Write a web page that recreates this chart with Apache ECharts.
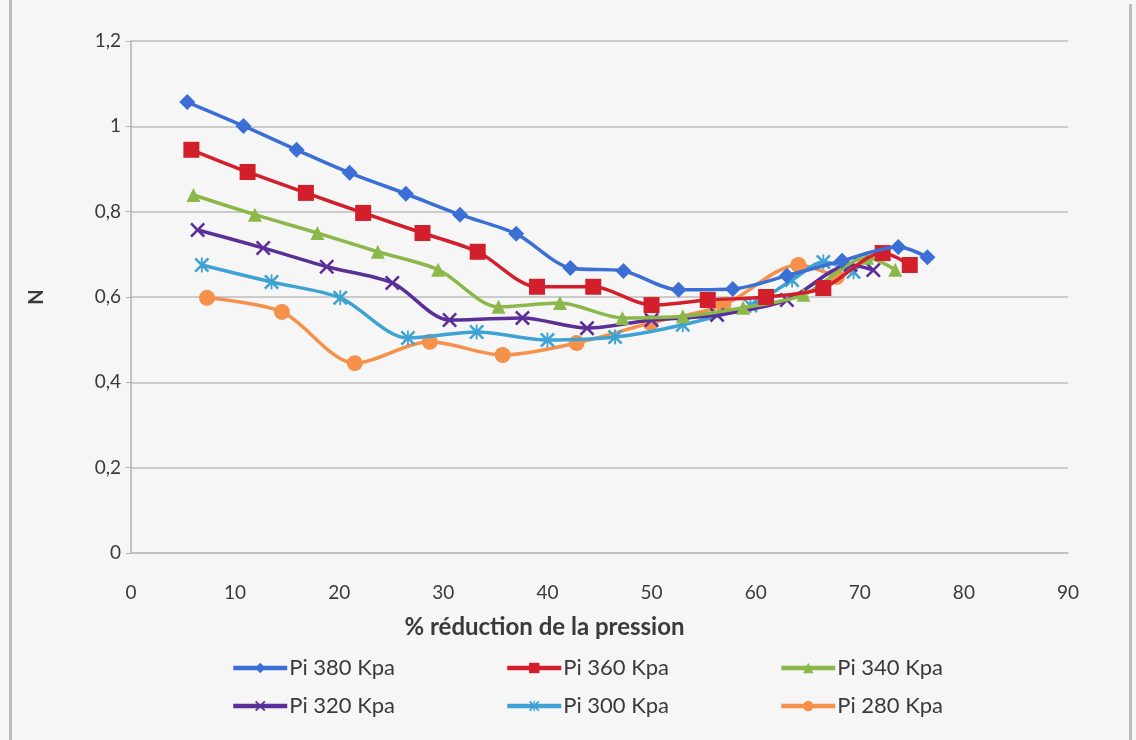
<!DOCTYPE html>
<html>
<head>
<meta charset="utf-8">
<script src="https://cdn.jsdelivr.net/npm/echarts@6/dist/echarts.min.js"></script>
<style>
html,body{margin:0;padding:0;background:#f6f6f6;}
#chart{width:1136px;height:740px;}
</style>
</head>
<body>
<div id="chart"></div>
<script>
// ---- data ----
const seriesNames = ['Pi 380 Kpa', 'Pi 360 Kpa', 'Pi 340 Kpa', 'Pi 320 Kpa', 'Pi 300 Kpa', 'Pi 280 Kpa'];

const x380 = [5.4, 10.8, 15.9, 21.0, 26.4, 31.6, 37.0, 42.2, 47.3, 52.6, 57.8, 63.0, 68.3, 73.7, 76.5];
const y380 = [1.057, 1.001, 0.945, 0.891, 0.842, 0.793, 0.748, 0.668, 0.661, 0.617, 0.619, 0.650, 0.685, 0.717, 0.693];

const x360 = [5.8, 11.2, 16.8, 22.3, 28.0, 33.3, 39.0, 44.4, 50.0, 55.4, 61.0, 66.5, 72.2, 74.8];
const y360 = [0.945, 0.893, 0.844, 0.797, 0.750, 0.706, 0.624, 0.624, 0.581, 0.593, 0.600, 0.621, 0.703, 0.675];

const x340 = [6.0, 11.9, 17.9, 23.7, 29.5, 35.3, 41.2, 47.2, 53.0, 58.8, 64.6, 70.7, 73.4];
const y340 = [0.839, 0.793, 0.750, 0.706, 0.664, 0.577, 0.586, 0.551, 0.555, 0.575, 0.605, 0.692, 0.664];

const x320 = [6.4, 12.7, 18.8, 25.1, 30.6, 37.6, 43.8, 50.0, 56.3, 63.0, 69.1, 71.3];
const y320 = [0.757, 0.715, 0.671, 0.633, 0.546, 0.551, 0.527, 0.546, 0.558, 0.593, 0.675, 0.663];

const x300 = [6.8, 13.5, 20.1, 26.6, 33.2, 40.0, 46.5, 53.0, 59.5, 63.5, 66.5, 69.4];
const y300 = [0.675, 0.635, 0.598, 0.504, 0.518, 0.499, 0.506, 0.535, 0.580, 0.640, 0.682, 0.659];

const x280 = [7.3, 14.5, 21.5, 28.7, 35.7, 42.8, 49.9, 56.9, 64.1, 67.8];
const y280 = [0.598, 0.565, 0.445, 0.495, 0.464, 0.492, 0.539, 0.581, 0.675, 0.647];

const xTicks = [0, 10, 20, 30, 40, 50, 60, 70, 80, 90];
const yTicks = ['0', '0,2', '0,4', '0,6', '0,8', '1', '1,2'];

// ---- presentation ----
const colors = ['#3b6fd6', '#d21f2b', '#8cb84b', '#5b2f98', '#3ea3d2', '#f5914b'];
const X_PATH = 'path://M0,0.12L0.12,0L0.5,0.38L0.88,0L1,0.12L0.62,0.5L1,0.88L0.88,1L0.5,0.62L0.12,1L0,0.88L0.38,0.5Z';
const STAR_PATH = X_PATH + 'M0.44,0L0.56,0L0.56,1L0.44,1Z';
const symbols = ['diamond', 'rect', 'triangle', X_PATH, STAR_PATH, 'circle'];
const symbolSizes = [16, 16, 14, 15, 15, 16];
const xs = [x380, x360, x340, x320, x300, x280];
const ys = [y380, y360, y340, y320, y300, y280];

const font = 'Lato, "Open Sans", sans-serif';
const textColor = '#3a3a3a';

const series = seriesNames.map((name, i) => ({
  name: name,
  type: 'line',
  data: xs[i].map((x, k) => [x, ys[i][k]]),
  smooth: 0.3,
  symbol: symbols[i],
  symbolSize: symbolSizes[i],
  showAllSymbol: true,
  lineStyle: { width: 3.5, color: colors[i] },
  itemStyle: { color: colors[i], borderWidth: 0 },
  z: 10 - i
}));

const legendPos = [
  [231, 657], [505, 657], [779, 657],
  [231, 695], [505, 695], [779, 695]
];
const legends = seriesNames.map((name, i) => ({
  data: [name],
  left: legendPos[i][0],
  top: legendPos[i][1],
  padding: 0,
  itemWidth: 54,
  itemHeight: 13,
  itemGap: 2,
  lineStyle: { width: 4.5 },
  textStyle: { fontFamily: font, fontSize: 22, color: textColor, padding: [0, 0, 0, -3] },
  selectedMode: false
}));

const chart = echarts.init(document.getElementById('chart'), null, { renderer: 'canvas' });
chart.setOption({
  backgroundColor: '#f6f6f6',
  animation: false,
  color: colors,
  grid: { left: 131, right: 68, top: 41, bottom: 187, containLabel: false },
  xAxis: {
    type: 'value',
    min: xTicks[0],
    max: xTicks[xTicks.length - 1],
    interval: 10,
    name: '% réduction de la pression',
    nameLocation: 'middle',
    nameGap: 62,
    nameTextStyle: { fontFamily: font, fontSize: 24, fontWeight: 'bold', color: textColor, padding: [0, 110, 0, 0] },
    axisLine: { show: true, lineStyle: { color: '#bdbdbd', width: 1.5 } },
    axisTick: { show: false },
    splitLine: { show: false },
    axisLabel: { margin: 30, fontFamily: font, fontSize: 19, color: textColor }
  },
  yAxis: {
    type: 'value',
    min: 0,
    max: 1.2,
    interval: 0.2,
    name: 'N',
    nameLocation: 'middle',
    nameGap: 84,
    nameTextStyle: { fontFamily: font, fontSize: 20, fontWeight: 'bold', color: textColor },
    axisLine: { show: true, lineStyle: { color: '#b0b0b0', width: 1.5 } },
    axisTick: { show: true, length: 5, lineStyle: { color: '#b0b0b0' } },
    splitLine: { show: true, lineStyle: { color: '#bdbdbd', width: 1.5 } },
    axisLabel: {
      margin: 10, fontFamily: font, fontSize: 19, color: textColor,
      formatter: function (v) { return yTicks[Math.round(v / 0.2)]; }
    }
  },
  legend: legends,
  graphic: [
    { type: 'rect', shape: { x: 9, y: 0, width: 3, height: 740 }, style: { fill: '#bcbcbc' }, silent: true },
    { type: 'rect', shape: { x: 1129, y: 4, width: 3, height: 736 }, style: { fill: '#bcbcbc' }, silent: true }
  ],
  series: series
});
</script>
</body>
</html>
